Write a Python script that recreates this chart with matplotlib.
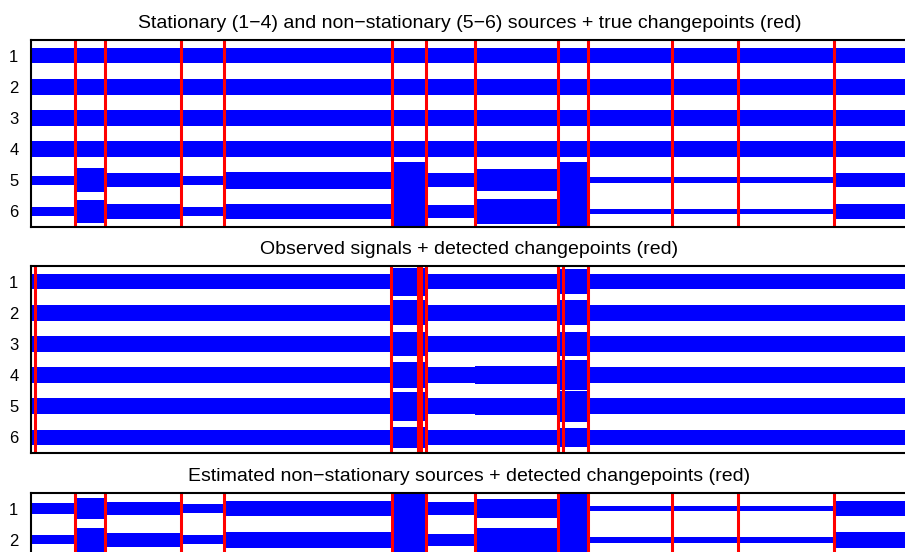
import numpy as np
import matplotlib
matplotlib.use("Agg")
import matplotlib.pyplot as plt

plt.rcParams['font.family'] = ['Liberation Sans', 'DejaVu Sans']

# ---- data (sample index 0..1000) ----
n_samples = 1000
true_cps = [50, 84, 171, 220, 412, 450, 506, 601, 635, 731, 806, 916]
detected_obs_cps = [5, 410, 441, 445, 450, 601, 607, 635]
detected_src_cps = [50, 84, 171, 220, 412, 450, 506, 601, 635, 731, 806, 916]

# half-width of each noise band per segment (segments between true changepoints)
src_stationary = [0.25] * 13
src_ns5 = [0.15, 0.38, 0.23, 0.15, 0.27, 0.60, 0.23, 0.35, 0.60, 0.09, 0.09, 0.09, 0.23]
src_ns6 = [0.15, 0.38, 0.25, 0.15, 0.25, 0.60, 0.20, 0.40, 0.60, 0.08, 0.08, 0.08, 0.25]

# observed signals: half-width per segment
obs_ch1 = [0.25, 0.25, 0.25, 0.25, 0.25, 0.45, 0.25, 0.25, 0.40, 0.25, 0.25, 0.25, 0.25]
obs_ch2 = [0.25, 0.25, 0.25, 0.25, 0.25, 0.40, 0.25, 0.25, 0.40, 0.25, 0.25, 0.25, 0.25]
obs_ch3 = [0.25, 0.25, 0.25, 0.25, 0.25, 0.38, 0.25, 0.25, 0.38, 0.25, 0.25, 0.25, 0.25]
obs_ch4 = [0.25, 0.25, 0.25, 0.25, 0.25, 0.42, 0.25, 0.28, 0.48, 0.25, 0.25, 0.25, 0.25]
obs_ch5 = [0.25, 0.25, 0.25, 0.25, 0.25, 0.46, 0.25, 0.28, 0.50, 0.25, 0.25, 0.25, 0.25]
obs_ch6 = [0.25, 0.25, 0.25, 0.25, 0.25, 0.33, 0.25, 0.25, 0.30, 0.25, 0.25, 0.25, 0.25]

est_ns1 = [0.17, 0.33, 0.22, 0.15, 0.25, 0.60, 0.22, 0.30, 0.60, 0.09, 0.09, 0.09, 0.25]
est_ns2 = [0.15, 0.38, 0.23, 0.15, 0.25, 0.60, 0.20, 0.38, 0.60, 0.09, 0.09, 0.09, 0.25]

channel_labels = ['1', '2', '3', '4', '5', '6']

titles = [
    "Stationary (1\u22124) and non\u2212stationary (5\u22126) sources + true changepoints (red)",
    "Observed signals + detected changepoints (red)",
    "Estimated non\u2212stationary sources + detected changepoints (red)",
]

panels = [
    ([src_stationary] * 4 + [src_ns5, src_ns6], true_cps),
    ([obs_ch1, obs_ch2, obs_ch3, obs_ch4, obs_ch5, obs_ch6], detected_obs_cps),
    ([est_ns1, est_ns2], detected_src_cps),
]

W, H = 905, 552
fig = plt.figure(figsize=(W / 100, H / 100), dpi=100)

def axrect(left, top, right, bottom):
    return [left / W, (H - bottom) / H, (right - left) / W, (bottom - top) / H]

rects = [axrect(31, 40, 908, 227), axrect(31, 266, 908, 453), axrect(31, 493, 908, 680)]

edges = np.array([0] + true_cps + [n_samples])

for (chans, cps), title, rect in zip(panels, titles, rects):
    ax = fig.add_axes(rect)
    for i, hw in enumerate(chans):
        y0 = i + 1
        hw = np.array(hw)
        xs = np.repeat(edges, 2)[1:-1]
        ws = np.repeat(hw, 2)
        ax.fill_between(xs, y0 - ws, y0 + ws, color='#0000ff', linewidth=0)
    for c in cps:
        ax.axvline(c, color='#ff0000', linewidth=2.2)
    ax.set_xlim(0, n_samples)
    ax.set_ylim(6.5, 0.5)
    nt = len(chans)
    ax.set_yticks(range(1, nt + 1))
    ax.set_yticklabels(channel_labels[:nt], fontsize=12)
    ax.set_xticks([])
    ax.tick_params(axis='y', length=0, pad=9)
    for s in ax.spines.values():
        s.set_linewidth(1.5)
        s.set_color('black')
    ax.set_title(title, fontsize=14, pad=8.5)

fig.savefig("out.png", dpi=100)
